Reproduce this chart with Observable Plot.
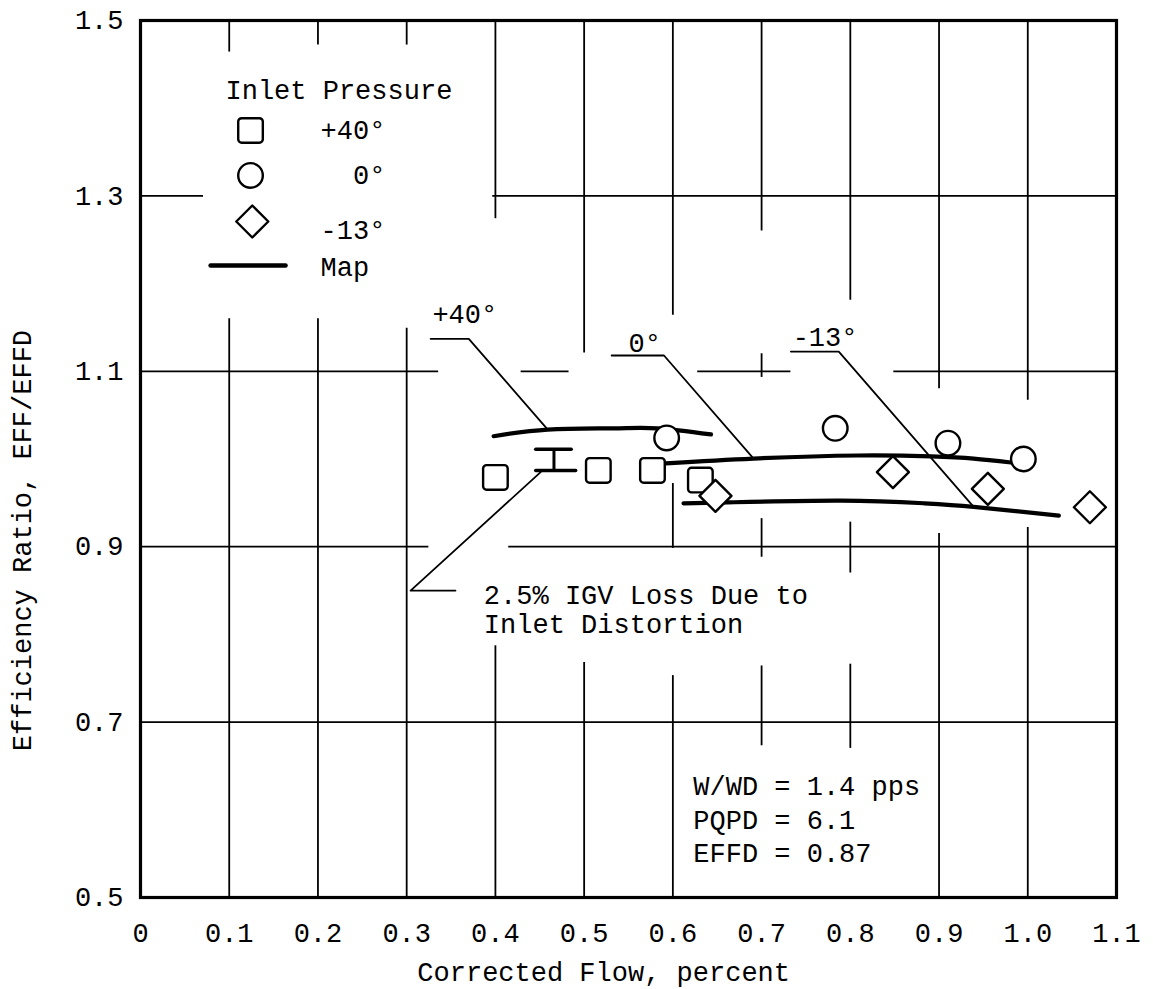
<!DOCTYPE html>
<html><head><meta charset="utf-8">
<script src="https://cdn.jsdelivr.net/npm/d3@7"></script>
<script src="https://cdn.jsdelivr.net/npm/@observablehq/plot@0.6"></script>
<style>body{margin:0;background:#fff} svg{display:block}</style>
</head><body><div id="chart"></div>
<script>
// ---- data ----
const xTicks = [0, 0.1, 0.2, 0.3, 0.4, 0.5, 0.6, 0.7, 0.8, 0.9, 1.0, 1.1];
const yTicks = [0.5, 0.7, 0.9, 1.1, 1.3, 1.5];

const pts40 = [ {x:0.400,y:0.979},{x:0.516,y:0.987},{x:0.577,y:0.987},{x:0.631,y:0.976} ];
const pts0  = [ {x:0.593,y:1.024},{x:0.783,y:1.035},{x:0.910,y:1.018},{x:0.995,y:1.000} ];
const pts13 = [ {x:0.648,y:0.958},{x:0.848,y:0.985},{x:0.955,y:0.966},{x:1.070,y:0.945} ];

const map40 = [ {x:0.398,y:1.026},{x:0.459,y:1.0335},{x:0.533,y:1.035},{x:0.583,y:1.035},{x:0.643,y:1.028} ];
const map0  = [ {x:0.592,y:0.995},{x:0.691,y:1.0005},{x:0.808,y:1.004},{x:0.891,y:1.003},{x:0.939,y:1.0005},{x:0.981,y:0.996} ];
const map13 = [ {x:0.612,y:0.9495},{x:0.662,y:0.9505},{x:0.789,y:0.9525},{x:0.883,y:0.9495},{x:0.939,y:0.9455},{x:1.035,y:0.9355} ];

// IGV loss bar (top, bottom)
const igvBar = [ {x:0.466, lo:0.987, hi:1.011} ];

// leader lines
const leaders = [
  {k:"+40", x:0.327, y:1.137},{k:"+40", x:0.370, y:1.137},{k:"+40", x:0.459, y:1.0335},
  {k:"0",   x:0.531, y:1.118},{k:"0",   x:0.590, y:1.118},{k:"0",   x:0.691, y:1.0005},
  {k:"-13", x:0.733, y:1.1225},{k:"-13", x:0.787, y:1.1225},{k:"-13", x:0.939, y:0.9455},
  {k:"igv", x:0.451, y:0.985},{k:"igv", x:0.3044, y:0.850},{k:"igv", x:0.355, y:0.850}
];

// broken grid segments (data units)
const gridV = [
  {x:0.1,y1:1.5,y2:1.464},{x:0.1,y1:1.160,y2:0.5},
  {x:0.2,y1:1.5,y2:1.472},{x:0.2,y1:1.160,y2:0.5},
  {x:0.3,y1:1.5,y2:1.472},{x:0.3,y1:1.149,y2:0.5},
  {x:0.4,y1:1.5,y2:1.274},{x:0.4,y1:0.787,y2:0.5},
  {x:0.5,y1:1.5,y2:1.121},{x:0.5,y1:0.768,y2:0.5},
  {x:0.6,y1:1.5,y2:1.164},{x:0.6,y1:0.972,y2:0.898},{x:0.6,y1:0.753,y2:0.5},
  {x:0.7,y1:1.5,y2:1.260},{x:0.7,y1:1.120,y2:1.093},{x:0.7,y1:0.932,y2:0.888},{x:0.7,y1:0.764,y2:0.673},
  {x:0.8,y1:1.5,y2:1.181},{x:0.8,y1:0.928,y2:0.870},{x:0.8,y1:0.766,y2:0.670},
  {x:0.9,y1:1.5,y2:1.080},{x:0.9,y1:0.915,y2:0.5},
  {x:1.0,y1:1.5,y2:1.067},{x:1.0,y1:0.922,y2:0.5}
];
const gridH = [
  {y:1.3,x1:0,x2:0.071},{y:1.3,x1:0.397,x2:1.1},
  {y:1.1,x1:0,x2:0.336},{y:1.1,x1:0.429,x2:0.483},{y:1.1,x1:0.628,x2:0.733},{y:1.1,x1:0.849,x2:1.1},
  {y:0.9,x1:0,x2:0.325},{y:0.9,x1:0.415,x2:1.1},
  {y:0.7,x1:0,x2:1.1}
];

// texts
const curveLabels = [ {x:0.329,y:1.165,t:"+40°"},{x:0.550,y:1.132,t:"0°"},{x:0.735,y:1.1385,t:"-13°"} ];
const noteLines = [ {x:0.387,y:0.8445,t:"2.5% IGV Loss Due to"},{x:0.387,y:0.811,t:"Inlet Distortion"} ];
const condLines = [ {x:0.623,y:0.6266,t:"W/WD = 1.4 pps"},{x:0.623,y:0.5878,t:"PQPD = 6.1"},{x:0.623,y:0.550,t:"EFFD = 0.87"} ];
const legendTitle = "Inlet Pressure";
const legendLabels = ["+40°", "  0°", "-13°", "Map"];
const xTitle = "Corrected Flow, percent";
const yTitle = "Efficiency Ratio, EFF/EFFD";

// ---- layout (legend placed in data space) ----
const lgSymX = 0.124, lgTextX = 0.203;
const legendSyms = [
  {x:lgSymX, y:1.3746, s:"sq"}, {x:lgSymX, y:1.3233, s:"ci"}, {x:lgSymX+0.002, y:1.2708, s:"di"}
];
const legendTextRows = [
  {x:0.0958, y:1.4202, t:legendTitle},
  {x:lgTextX, y:1.3746, t:legendLabels[0]},
  {x:lgTextX, y:1.3233, t:legendLabels[1]},
  {x:lgTextX, y:1.2605, t:legendLabels[2]},
  {x:lgTextX, y:1.2184, t:legendLabels[3]}
];
const legendLine = [ {x:0.079, y:1.2206}, {x:0.1635, y:1.2206} ];

// custom symbols
const roundSquare = {
  draw(ctx, size) {
    const h = Math.sqrt(size / Math.PI), c = h * 0.28;
    ctx.moveTo(-h + c, -h); ctx.lineTo(h - c, -h); ctx.arcTo(h, -h, h, -h + c, c);
    ctx.lineTo(h, h - c); ctx.arcTo(h, h, h - c, h, c);
    ctx.lineTo(-h + c, h); ctx.arcTo(-h, h, -h, h - c, c);
    ctx.lineTo(-h, -h + c); ctx.arcTo(-h, -h, -h + c, -h, c);
    ctx.closePath();
  }
};
const rhombus = {
  draw(ctx, size) {
    const h = Math.sqrt(size / Math.PI);
    ctx.moveTo(0, -h); ctx.lineTo(h, 0); ctx.lineTo(0, h); ctx.lineTo(-h, 0); ctx.closePath();
  }
};

const FONT = "'Liberation Mono', 'Courier New', monospace";
const FS = 27;
const txt = (data, extra = {}) => Plot.text(data, {x: "x", y: "y", text: "t", textAnchor: "start", fontSize: FS, fontFamily: FONT, fill: "black", ...extra});

const chart = Plot.plot({
  width: 1153, height: 989,
  marginLeft: 140, marginRight: 37, marginTop: 20, marginBottom: 92,
  style: {fontFamily: FONT, fontSize: FS + "px", background: "white", color: "black"},
  x: {domain: [0, 1.1]},
  y: {domain: [0.5, 1.5]},
  marks: [
    Plot.ruleX(gridV, {x: "x", y1: "y1", y2: "y2", stroke: "black", strokeWidth: 1.8}),
    Plot.ruleY(gridH, {y: "y", x1: "x1", x2: "x2", stroke: "black", strokeWidth: 1.8}),
    Plot.frame({stroke: "black", strokeWidth: 3.2}),
    Plot.axisX({ticks: xTicks, tickSize: 0, tickPadding: 25, label: null,
      tickFormat: d => d === 0 ? "0" : d3.format(".1f")(d), fontSize: FS, fontFamily: FONT}),
    Plot.axisY({ticks: yTicks, tickSize: 0, tickPadding: 17, label: null,
      tickFormat: d3.format(".1f"), fontSize: FS, fontFamily: FONT}),
    // leaders
    Plot.line(leaders, {x: "x", y: "y", z: "k", stroke: "black", strokeWidth: 1.8}),
    // map lines
    Plot.line(map40, {x: "x", y: "y", curve: "natural", stroke: "black", strokeWidth: 4.2, strokeLinecap: "round"}),
    Plot.line(map0,  {x: "x", y: "y", curve: "natural", stroke: "black", strokeWidth: 4.2, strokeLinecap: "round"}),
    Plot.line(map13, {x: "x", y: "y", curve: "natural", stroke: "black", strokeWidth: 4.2, strokeLinecap: "round"}),
    // IGV bar
    Plot.ruleX(igvBar, {x: "x", y1: "lo", y2: "hi", stroke: "black", strokeWidth: 3}),
    Plot.ruleY(igvBar, {y: "hi", x1: d => d.x - 0.02, x2: d => d.x + 0.02, stroke: "black", strokeWidth: 3.5, strokeLinecap: "round"}),
    Plot.ruleY(igvBar, {y: "lo", x1: d => d.x - 0.02, x2: d => d.x + 0.025, stroke: "black", strokeWidth: 3.5, strokeLinecap: "round"}),
    // data markers
    Plot.dot(pts40, {x: "x", y: "y", symbol: roundSquare, r: 12.3, fill: "white", stroke: "black", strokeWidth: 2.4}),
    Plot.dot(pts0,  {x: "x", y: "y", symbol: "circle", r: 12.3, fill: "white", stroke: "black", strokeWidth: 2.4}),
    Plot.dot(pts13, {x: "x", y: "y", symbol: rhombus, r: 16, fill: "white", stroke: "black", strokeWidth: 2.4, strokeLinejoin: "round"}),
    // legend
    Plot.dot(legendSyms.filter(d => d.s === "sq"), {x: "x", y: "y", symbol: roundSquare, r: 12.3, fill: "white", stroke: "black", strokeWidth: 2.4}),
    Plot.dot(legendSyms.filter(d => d.s === "ci"), {x: "x", y: "y", symbol: "circle", r: 12.3, fill: "white", stroke: "black", strokeWidth: 2.4}),
    Plot.dot(legendSyms.filter(d => d.s === "di"), {x: "x", y: "y", symbol: rhombus, r: 16, fill: "white", stroke: "black", strokeWidth: 2.4, strokeLinejoin: "round"}),
    Plot.line(legendLine, {x: "x", y: "y", stroke: "black", strokeWidth: 4.5, strokeLinecap: "round"}),
    txt(legendTextRows, {xml: undefined}),
    // annotations
    txt(curveLabels),
    txt(noteLines),
    txt(condLines),
    // axis titles
    Plot.text([xTitle], {x: () => 0.522, y: () => 0.4145, text: d => d, fontSize: FS, fontFamily: FONT, fill: "black"}),
    Plot.text([yTitle], {x: () => -0.133, y: () => 0.907, text: d => d, rotate: -90, fontSize: FS, fontFamily: FONT, fill: "black"})
  ]
});
document.getElementById("chart").append(chart);
</script>
</body></html>
